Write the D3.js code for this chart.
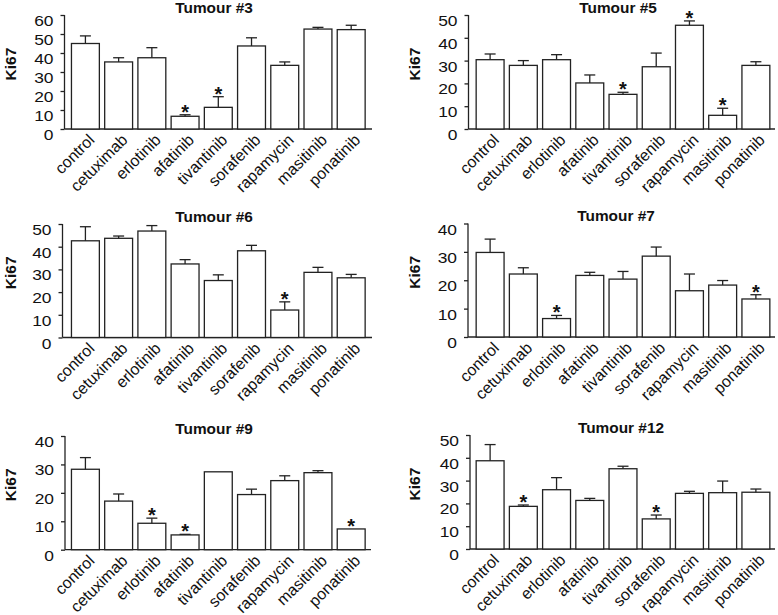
<!DOCTYPE html>
<html>
<head>
<meta charset="utf-8">
<script src="https://cdn.jsdelivr.net/npm/d3@7"></script>
<style>
  html, body { margin: 0; padding: 0; background: #fff; }
  svg { display: block; font-family: "Liberation Sans", Arial, sans-serif; }
</style>
</head>
<body>
<svg id="chart" width="778" height="615"></svg>
<script>
// ---- data ----
const categories = ["control", "cetuximab", "erlotinib", "afatinib", "tivantinib", "sorafenib", "rapamycin", "masitinib", "ponatinib"];

const titles = ["Tumour #3", "Tumour #5", "Tumour #6", "Tumour #7", "Tumour #9", "Tumour #12"];

const yMax = [60, 50, 50, 40, 40, 50];
const yTicks = [
  [0, 10, 20, 30, 40, 50, 60],
  [0, 10, 20, 30, 40, 50],
  [0, 10, 20, 30, 40, 50],
  [0, 10, 20, 30, 40],
  [0, 10, 20, 30, 40],
  [0, 10, 20, 30, 40, 50]
];

const meansT3  = [45.0, 35.3, 37.5, 6.7, 11.4, 43.7, 33.5, 52.6, 52.3];
const errT3    = [4.0, 2.2, 5.3, 0.8, 5.6, 4.3, 1.8, 0.9, 2.3];
const meansT5  = [30.4, 27.9, 30.4, 20.2, 15.2, 27.3, 45.5, 6.0, 27.9];
const errT5    = [2.5, 2.1, 2.2, 3.5, 0.9, 6.0, 1.9, 3.1, 1.6];
const meansT6  = [42.6, 43.7, 46.9, 32.4, 25.1, 38.2, 12.1, 28.7, 26.3];
const errT6    = [6.2, 1.0, 2.4, 1.9, 2.5, 2.4, 3.6, 2.2, 1.5];
const meansT7  = [29.8, 22.2, 6.5, 21.7, 20.4, 28.5, 16.3, 18.3, 13.4];
const errT7    = [4.7, 2.2, 1.1, 1.1, 2.7, 3.2, 5.9, 1.6, 1.5];
const meansT9  = [28.3, 17.1, 9.3, 5.2, 27.4, 19.4, 24.3, 27.1, 7.3];
const errT9    = [4.1, 2.5, 1.8, 0.2, 0.0, 1.9, 1.7, 0.7, 0.0];
const meansT12 = [38.7, 18.7, 26.0, 21.3, 35.2, 13.2, 24.4, 24.7, 24.9];
const errT12   = [7.1, 0.6, 5.3, 0.9, 1.1, 1.7, 0.9, 5.1, 1.4];

const starsT3  = ["afatinib", "tivantinib"];
const starsT5  = ["tivantinib", "rapamycin", "masitinib"];
const starsT6  = ["rapamycin"];
const starsT7  = ["erlotinib", "ponatinib"];
const starsT9  = ["erlotinib", "afatinib", "ponatinib"];
const starsT12 = ["cetuximab", "sorafenib"];

const yLabel = "Ki67";

// ---- layout (positions only) ----
const panels = [
  { means: meansT3,  err: errT3,  stars: starsT3,  axisX: 64.5, band: [68.8, 367.8], top: 15,  base: 129, xEnd: 372, labelX: 16, titleX: 214 },
  { means: meansT5,  err: errT5,  stars: starsT5,  axisX: 468.5, band: [473.5, 772.5], top: 15,  base: 129, xEnd: 775, labelX: 420, titleX: 618 },
  { means: meansT6,  err: errT6,  stars: starsT6,  axisX: 62.5,  band: [68.8, 367.8], top: 224, base: 337.5, xEnd: 372, labelX: 16, titleX: 214 },
  { means: meansT7,  err: errT7,  stars: starsT7,  axisX: 468,  band: [473.5, 772.5], top: 223.5, base: 337, xEnd: 775, labelX: 420, titleX: 616 },
  { means: meansT9,  err: errT9,  stars: starsT9,  axisX: 65,  band: [68.8, 367.8], top: 436, base: 549.7, xEnd: 371, labelX: 16, titleX: 214 },
  { means: meansT12, err: errT12, stars: starsT12, axisX: 470, band: [473.5, 772.5], top: 435, base: 549, xEnd: 775, labelX: 420, titleX: 621 }
];

const svg = d3.select("#chart");
const ink = "#222";
const font = "'Liberation Sans', Arial, sans-serif";

panels.forEach((p, i) => {
  const g = svg.append("g");
  const x = d3.scaleBand().domain(categories).range(p.band).paddingInner(0.16).paddingOuter(0.08);
  const y = d3.scaleLinear().domain([0, yMax[i]]).range([p.base, p.top]);

  // y axis
  const yAxis = d3.axisLeft(y).tickValues(yTicks[i]).tickSize(4).tickPadding(6).tickFormat(d3.format("d"));
  const ya = g.append("g").attr("transform", `translate(${p.axisX},0)`).call(yAxis);
  ya.select(".domain").attr("d", `M0,${p.top}V${p.base}`).attr("stroke", ink).attr("stroke-width", 1.3);
  ya.selectAll(".tick line").attr("stroke", ink).attr("stroke-width", 1.3);
  ya.selectAll(".tick text")
    .attr("fill", "#111")
    .style("font-size", "14.5px")
    .style("font-family", font)
    .attr("x", 0).attr("dy", null).attr("y", 0)
    .attr("text-anchor", "end")
    .attr("transform", "translate(-11,10.5) scale(1.2,1)");

  // x axis
  const xAxis = d3.axisBottom(x).tickSize(0).tickPadding(0);
  const xa = g.append("g").attr("transform", `translate(0,${p.base})`).call(xAxis);
  xa.select(".domain").attr("d", `M${p.axisX},0H${p.xEnd}`).attr("stroke", ink).attr("stroke-width", 1.3);
  xa.selectAll(".tick text")
    .attr("fill", "#111")
    .style("font-size", "16px")
    .style("font-family", font)
    .attr("text-anchor", "end")
    .attr("dy", 0)
    .attr("y", 0)
    .attr("transform", "translate(10,12) rotate(-45)");

  // bars
  g.selectAll("rect.bar").data(categories).enter().append("rect")
    .attr("class", "bar")
    .attr("x", d => x(d))
    .attr("width", x.bandwidth())
    .attr("y", (d, k) => y(p.means[k]))
    .attr("height", (d, k) => p.base - y(p.means[k]))
    .attr("fill", "#fff")
    .attr("stroke", ink)
    .attr("stroke-width", 1.3);

  // error bars
  const capW = 11;
  categories.forEach((c, k) => {
    if (p.err[k] <= 0) return;
    const cx = x(c) + x.bandwidth() / 2;
    const y0 = y(p.means[k]);
    const y1 = y(p.means[k] + p.err[k]);
    g.append("line").attr("x1", cx).attr("x2", cx).attr("y1", y0).attr("y2", y1)
      .attr("stroke", ink).attr("stroke-width", 1.3);
    g.append("line").attr("x1", cx - capW / 2).attr("x2", cx + capW / 2).attr("y1", y1).attr("y2", y1)
      .attr("stroke", ink).attr("stroke-width", 1.3);
  });

  // stars
  p.stars.forEach(c => {
    const k = categories.indexOf(c);
    const cx = x(c) + x.bandwidth() / 2;
    const yt = y(p.means[k] + p.err[k]);
    g.append("text").attr("x", cx).attr("y", yt + 4)
      .attr("text-anchor", "middle")
      .style("font-size", "20px")
      .style("font-weight", "bold")
      .attr("fill", "#111")
      .text("*");
  });

  // title
  g.append("text")
    .attr("transform", `translate(${p.titleX},${p.top - 2.5}) scale(1.1,1)`)
    .attr("text-anchor", "middle")
    .style("font-size", "14px")
    .style("font-weight", "bold")
    .attr("fill", "#111")
    .text(titles[i]);

  // y label
  g.append("text")
    .attr("transform", `translate(${p.labelX},${(p.top + p.base) / 2 - 8}) rotate(-90)`)
    .attr("text-anchor", "middle")
    .style("font-size", "15.5px")
    .style("font-weight", "bold")
    .attr("fill", "#111")
    .text(yLabel);
});
</script>
</body>
</html>
